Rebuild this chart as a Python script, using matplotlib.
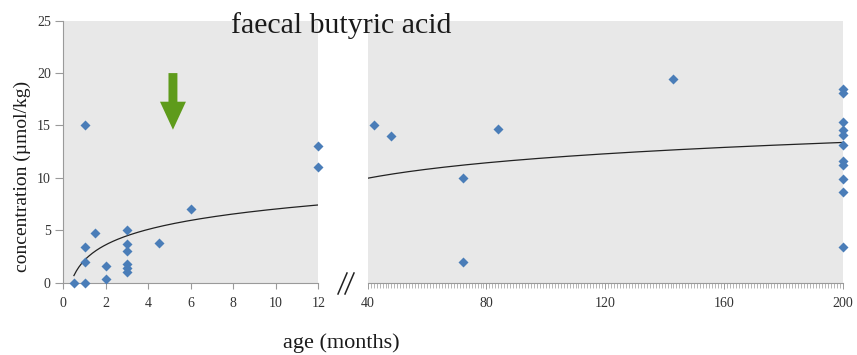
import numpy as np
import matplotlib
matplotlib.use("Agg")
import matplotlib.pyplot as plt
from matplotlib.patches import FancyArrow
from matplotlib.lines import Line2D
from matplotlib.ticker import MultipleLocator

# Infants and young children (0-12 months)
infant_age = [0.5, 1, 1, 1, 1, 1.5, 2, 2, 3, 3, 3, 3, 3, 3, 4.5, 6, 12, 12]
infant_conc = [0, 0, 15, 3.4, 2, 4.7, 1.6, 0.4, 5, 3.7, 3, 1.8, 1.4, 1, 3.8, 7, 13, 11]

# Older children and adults (40-200 months)
older_age = [42, 48, 72, 72, 84, 143] + [200] * 11
older_conc = [15, 14, 10, 2, 14.7, 19.4,
              18.5, 18.1, 15.3, 14.6, 14.1, 13.1, 11.6, 11.2, 9.9, 8.7, 3.4]

# Logarithmic trend line: conc = slope * ln(age) + intercept
TREND_SLOPE = 2.12
TREND_INTERCEPT = 2.15

left_ticks = [0, 2, 4, 6, 8, 10, 12]
right_ticks = [40, 80, 120, 160, 200]
y_ticks = [0, 5, 10, 15, 20, 25]

BG = "#E8E8E8"
DOT = "#4A7DB8"
AXIS = "#9A9A9A"
SERIF = ["Liberation Serif", "DejaVu Serif"]

fig = plt.figure(figsize=(8.57, 3.55), dpi=100)
W, H = 857, 355

def frac(x0, x1, y_top, y_bot):
    return [x0 / W, 1 - y_bot / H, (x1 - x0) / W, (y_bot - y_top) / H]

axL = fig.add_axes(frac(63.3, 318.3, 20.7, 282.7))
axR = fig.add_axes(frac(367.7, 842.7, 20.7, 282.7))

def trend(x):
    return TREND_SLOPE * np.log(x) + TREND_INTERCEPT

for ax in (axL, axR):
    ax.set_facecolor(BG)
    ax.set_ylim(0, 25)
    for s in ("top", "right"):
        ax.spines[s].set_visible(False)
    ax.spines["bottom"].set_color(AXIS)
    ax.spines["bottom"].set_linewidth(0.8)

# left panel
axL.set_xlim(0, 12)
xl = np.linspace(0.5, 12, 200)
axL.plot(xl, trend(xl), color="#222222", lw=0.9, zorder=2)
axL.plot(infant_age, infant_conc, linestyle="none", marker="D", ms=5.6,
         color=DOT, mec="none", zorder=3, clip_on=False)
axL.set_xticks(left_ticks)
axL.set_yticks(y_ticks)
axL.spines["left"].set_color(AXIS)
axL.spines["left"].set_linewidth(0.8)
axL.tick_params(axis="y", direction="out", length=6, width=0.8, color=AXIS,
                pad=3, labelsize=10, labelcolor="#333333")
axL.tick_params(axis="x", direction="out", length=4, width=0.8, color=AXIS,
                pad=6, labelsize=10, labelcolor="#333333")
for lab in axL.get_xticklabels() + axL.get_yticklabels():
    lab.set_family(SERIF)

axL.add_patch(FancyArrow(5.16, 20.0, 0, -5.4, width=0.42, head_width=1.22,
                         head_length=2.67, length_includes_head=True,
                         color="#5E9B1B", lw=0, zorder=4))

# right panel
axR.set_xlim(40, 200)
xr = np.linspace(40, 200, 200)
axR.plot(xr, trend(xr), color="#222222", lw=0.9, zorder=2)
axR.plot(older_age, older_conc, linestyle="none", marker="D", ms=5.6,
         color=DOT, mec="none", zorder=3, clip_on=False)
axR.spines["left"].set_visible(False)
axR.set_yticks([])
axR.set_xticks(right_ticks)
axR.xaxis.set_minor_locator(MultipleLocator(1))
axR.tick_params(axis="x", which="major", direction="out", length=4, width=0.7,
                color=AXIS, pad=6, labelsize=10, labelcolor="#333333")
axR.tick_params(axis="x", which="minor", direction="out", length=3.5, width=0.5,
                color=AXIS)
for lab in axR.get_xticklabels():
    lab.set_family(SERIF)

# axis break marks
for dx in (0, 7):
    fig.add_artist(Line2D([(338 + dx) / W, (347 + dx) / W],
                          [1 - 294 / H, 1 - 273 / H],
                          color="#222222", lw=1.1))

fig.text(341.5 / W, 1 - 33 / H, "faecal butyric acid", family=SERIF,
         fontsize=21.5, ha="center", va="baseline", color="#1a1a1a")
fig.text(341 / W, 1 - 343 / H, "age (months)", family=SERIF,
         fontsize=16, ha="center", va="center", color="#1a1a1a")
fig.text(22 / W, 1 - 176 / H, "concentration (\u00b5mol/kg)", family=SERIF,
         fontsize=14, ha="center", va="center", rotation=90, color="#1a1a1a")

fig.savefig("out.png", dpi=100, facecolor="white")
